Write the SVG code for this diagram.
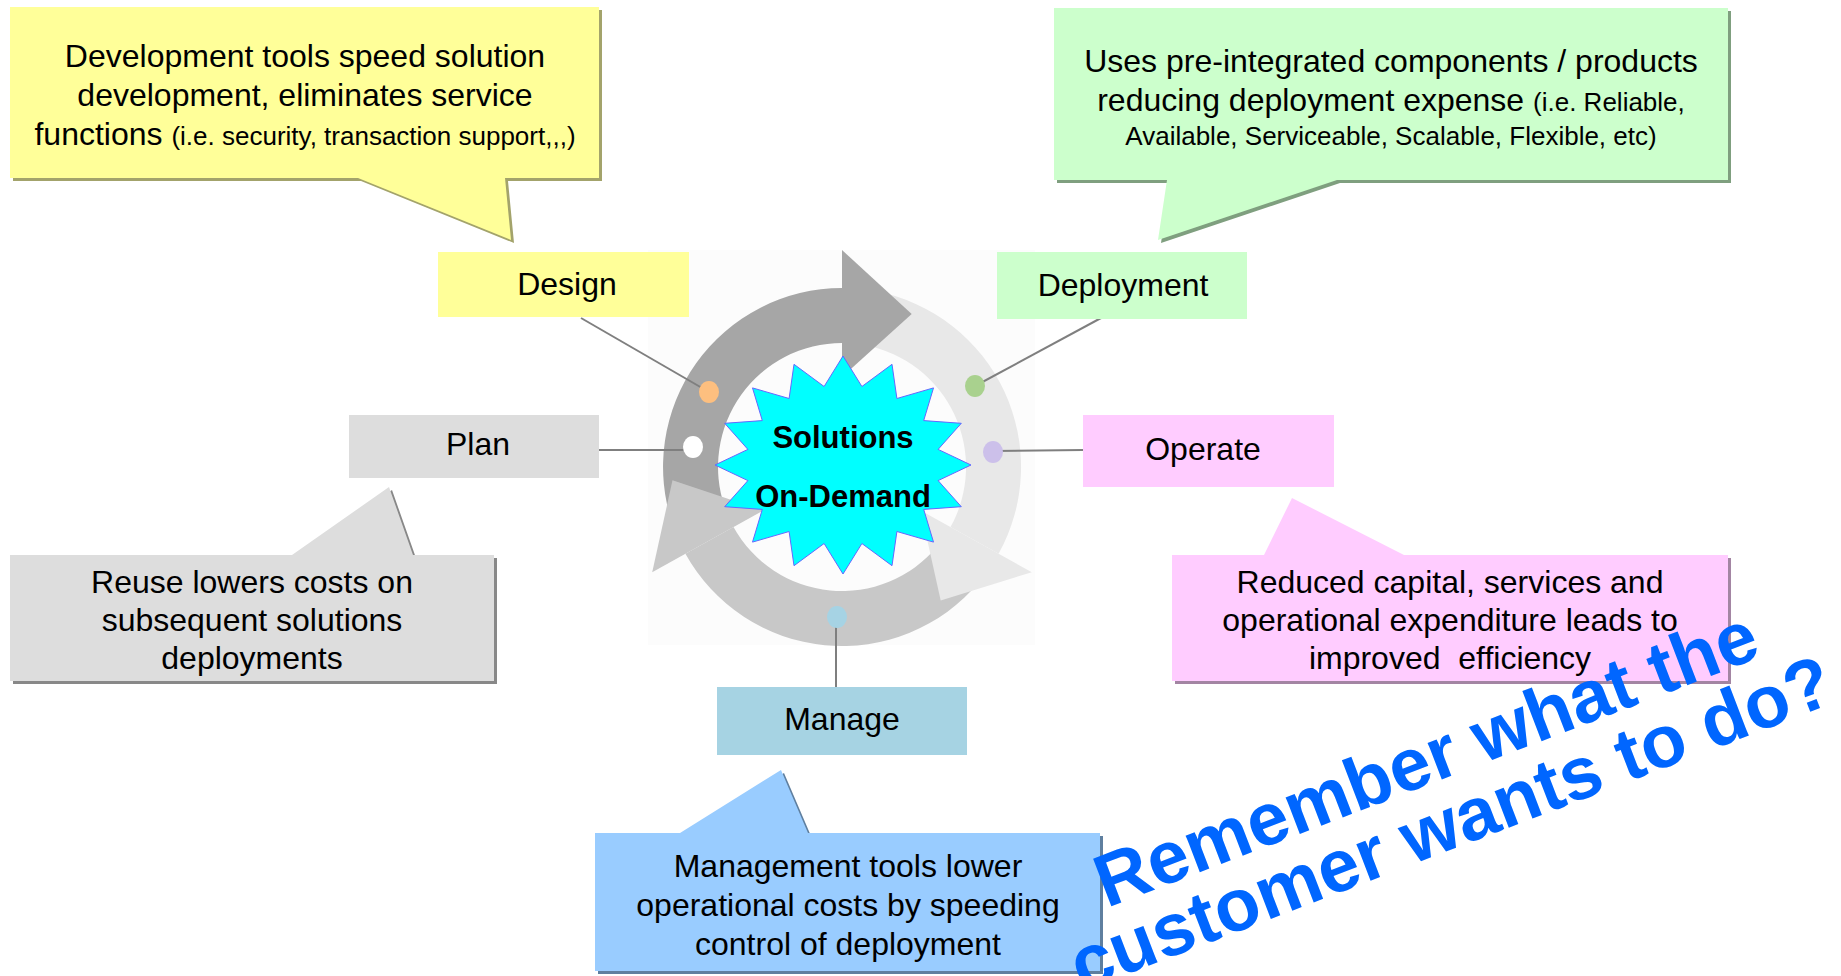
<svg xmlns="http://www.w3.org/2000/svg" width="1841" height="976" viewBox="0 0 1841 976">
<style>
text{font-family:"Liberation Sans",Arial,Helvetica,sans-serif;fill:#000}
.mid{text-anchor:middle;font-size:32px}
.sm{font-size:26px}
.conn{stroke:#7f7f7f;stroke-width:2;fill:none}
.star-t{font-size:31px;font-weight:bold;text-anchor:middle}
.wm{font-size:74px;font-weight:bold;fill:#0066ff;text-anchor:middle}
.dark{fill:#a6a6a6}.light{fill:#e8e8e8}.medium{fill:#c8c8c8}
</style>
<rect x="0" y="0" width="1841" height="976" fill="#ffffff"/>

<g id="cycle">
  <rect x="648" y="250" width="387" height="395" fill="#fcfcfc"/>
  <!-- bodies -->
  <path class="dark" d="M672.8,525.3 A179,179 0 0 1 842,288 L842,343 A124,124 0 0 0 724.8,507.4 Z"/>
  <path class="light" d="M876.2,291.3 A179,179 0 0 1 998.6,553.8 L950.5,527.1 A124,124 0 0 0 865.7,345.3 Z"/>
  <path class="medium" d="M979.1,582.1 A179,179 0 0 1 685.4,553.8 L733.5,527.1 A124,124 0 0 0 937,546.7 Z"/>
  <!-- heads -->
  <polygon class="dark" points="842,250 911.7,314.1 842,377"/>
  <polygon class="light" points="1031.8,572.2 940.7,600.4 920.7,510.6"/>
  <polygon class="medium" points="652.2,572.2 672.5,480.3 763.3,510.6"/>
</g>

<g id="star">
  <polygon fill="#00ffff" stroke="#6666ff" stroke-width="1" points="843,356 861.9,386.5 892,364.3 896.9,398.5 933.5,387.9 923.7,420.6 961.3,423.3 938.1,449.4 971,465 938.1,480.6 961.3,506.7 923.7,509.4 933.5,542.1 896.9,531.5 892,565.7 861.9,543.5 843,574 824.1,543.5 794,565.7 789.1,531.5 752.5,542.1 762.3,509.4 724.7,506.7 747.9,480.6 715,465 747.9,449.4 724.7,423.3 762.3,420.6 752.5,387.9 789.1,398.5 794,364.3 824.1,386.5"/>
  <text class="star-t" x="843" y="448">Solutions</text>
  <text class="star-t" x="843" y="507">On-Demand</text>
</g>

<g id="connectors">
  <line class="conn" x1="581" y1="318" x2="709" y2="392"/>
  <line class="conn" x1="599" y1="450" x2="693" y2="450"/>
  <line class="conn" x1="1101" y1="318" x2="975" y2="386"/>
  <line class="conn" x1="1083" y1="450" x2="993" y2="451"/>
  <line class="conn" x1="836" y1="617" x2="836" y2="687"/>
</g>

<g id="dots">
  <ellipse cx="709" cy="392" rx="10" ry="11" fill="#fdbf7f"/>
  <ellipse cx="693" cy="447" rx="10" ry="11" fill="#ffffff"/>
  <ellipse cx="975" cy="386" rx="10" ry="11" fill="#a9d18e"/>
  <ellipse cx="993" cy="452" rx="10" ry="11" fill="#ccc0ea"/>
  <ellipse cx="837" cy="617" rx="10" ry="11" fill="#a6d3e4"/>
</g>

<g id="node-design">
  <rect x="438" y="252" width="251" height="65" fill="#ffff99"/>
  <text class="mid" x="567" y="295">Design</text>
</g>
<g id="node-deployment">
  <rect x="997" y="252" width="250" height="67" fill="#ccffcc"/>
  <text class="mid" x="1123" y="296">Deployment</text>
</g>
<g id="node-plan">
  <rect x="349" y="415" width="250" height="63" fill="#dddddd"/>
  <text class="mid" x="478" y="455">Plan</text>
</g>
<g id="node-operate">
  <rect x="1083" y="415" width="251" height="72" fill="#ffccff"/>
  <text class="mid" x="1203" y="460">Operate</text>
</g>
<g id="node-manage">
  <rect x="717" y="687" width="250" height="68" fill="#a6d3e3"/>
  <text class="mid" x="842" y="730">Manage</text>
</g>

<g id="callout-design">
  <path d="M13,10 H602 V181 H508 L514,243 L361,181 H13 Z" fill="#a3a36b"/>
  <path d="M10,7 H599 V178 H505 L511,240 L358,178 H10 Z" fill="#ffff99"/>
  <text class="mid" x="305" y="67">Development tools speed solution</text>
  <text class="mid" x="305" y="106">development, eliminates service</text>
  <text class="mid" x="305" y="145">functions <tspan class="sm">(i.e. security, transaction support,,,)</tspan></text>
</g>

<g id="callout-deployment">
  <path d="M1057,11 H1731 V183 H1340 L1161,243 L1170,183 H1057 Z" fill="#7f9f7f"/>
  <path d="M1054,8 H1728 V180 H1337 L1158,240 L1167,180 H1054 Z" fill="#ccffcc"/>
  <text class="mid" x="1391" y="72">Uses pre-integrated components / products</text>
  <text class="mid" x="1391" y="111">reducing deployment expense <tspan class="sm">(i.e. Reliable,</tspan></text>
  <text class="mid sm" x="1391" y="145">Available, Serviceable, Scalable, Flexible, etc)</text>
</g>

<g id="callout-plan">
  <path d="M13,558 H295 L392,490 L416,558 H497 V684 H13 Z" fill="#888888"/>
  <path d="M10,555 H292 L389,487 L413,555 H494 V681 H10 Z" fill="#dddddd"/>
  <text class="mid" x="252" y="593">Reuse lowers costs on</text>
  <text class="mid" x="252" y="631">subsequent solutions</text>
  <text class="mid" x="252" y="669">deployments</text>
</g>

<g id="callout-operate">
  <path d="M1175,558 H1267 L1295,501 L1407,558 H1731 V684 H1175 Z" fill="#a385a3"/>
  <path d="M1172,555 H1264 L1292,498 L1404,555 H1728 V681 H1172 Z" fill="#ffccff"/>
  <text class="mid" x="1450" y="593">Reduced capital, services and</text>
  <text class="mid" x="1450" y="631">operational expenditure leads to</text>
  <text class="mid" x="1450" y="669" xml:space="preserve">improved  efficiency</text>
</g>

<g id="callout-manage">
  <path d="M598,836 H683 L784,773 L811,836 H1103 V974 H598 Z" fill="#5f7f9f"/>
  <path d="M595,833 H680 L781,770 L808,833 H1100 V971 H595 Z" fill="#99ccff"/>
  <text class="mid" x="848" y="877">Management tools lower</text>
  <text class="mid" x="848" y="916">operational costs by speeding</text>
  <text class="mid" x="848" y="955">control of deployment</text>
</g>

<g id="watermark" transform="translate(1435,782) rotate(-21)">
  <text class="wm" x="0" y="0">Remember what the</text>
  <text class="wm" x="0" y="69">customer wants to do?</text>
</g>
</svg>
